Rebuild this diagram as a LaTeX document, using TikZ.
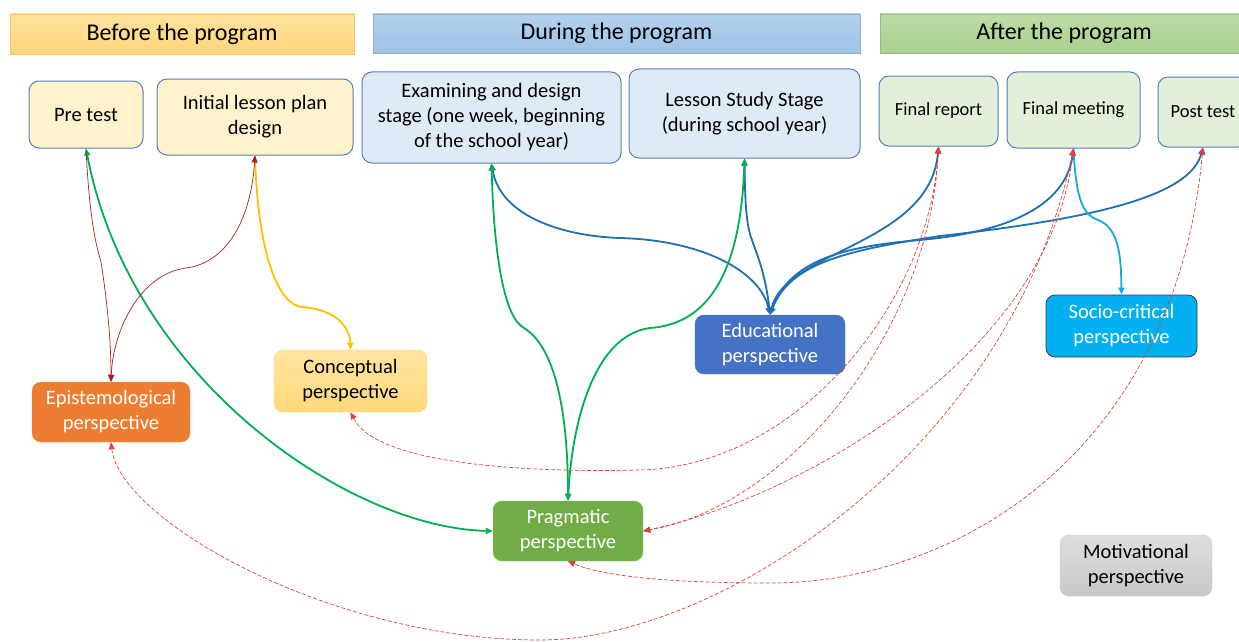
\documentclass[tikz,border=0pt]{standalone}
\usepackage{fontspec}
\setmainfont{Carlito}
\usetikzlibrary{arrows.meta}

\definecolor{hdrOrange}{HTML}{FFD57A}
\definecolor{hdrOrangeTop}{HTML}{FFE29E}
\definecolor{hdrBlue}{HTML}{9DC3E6}
\definecolor{hdrBlueTop}{HTML}{B4D1EE}
\definecolor{hdrGreen}{HTML}{A9D18E}
\definecolor{hdrGreenTop}{HTML}{BCDCA6}
\definecolor{boxLine}{HTML}{5B7DB5}
\definecolor{beforeFill}{HTML}{FFF2CC}
\definecolor{duringFill}{HTML}{DEEBF7}
\definecolor{afterFill}{HTML}{E2F0D9}
\definecolor{episFill}{HTML}{ED7D31}
\definecolor{concFill}{HTML}{FFD97A}
\definecolor{educFill}{HTML}{4472C4}
\definecolor{socioFill}{HTML}{00B0F0}
\definecolor{pragFill}{HTML}{70AD47}
\definecolor{motivFill}{HTML}{C8C8C8}
\definecolor{linkBlue}{HTML}{1F6FB2}
\definecolor{linkGreen}{HTML}{00B050}
\definecolor{linkYellow}{HTML}{FFC000}
\definecolor{linkCyan}{HTML}{1AA7E6}
\definecolor{linkDark}{HTML}{A52020}
\definecolor{linkRed}{HTML}{E0403A}

\tikzset{
  phase/.style={draw=#1!80!orange, rectangle, inner sep=0pt,
    font=\fontsize{24}{28}\selectfont},
  stagebox/.style={draw=boxLine, line width=1pt, rounded corners=10pt,
    align=center, inner sep=0pt, font=\fontsize{20.5}{25}\selectfont},
  persp/.style={rounded corners=9pt, align=center, inner sep=0pt,
    minimum width=151pt, minimum height=60pt,
    font=\fontsize{20.5}{25}\selectfont},
  tip/.style={-{Triangle[length=7pt,width=6pt]}},
  twotip/.style={{Triangle[length=7pt,width=6pt]}-{Triangle[length=7pt,width=6pt]}},
  thick link/.style={line width=1.8pt},
  thin link/.style={line width=0.7pt},
  dash link/.style={line width=0.7pt, dash pattern=on 4pt off 2pt, linkRed}
}

\begin{document}
\begin{tikzpicture}[x=1pt,y=-1pt]
\useasboundingbox (0,0) rectangle (1239,642);
\clip (0,0) rectangle (1239,642);

% Phase headers
\node[phase=hdrOrange, top color=hdrOrangeTop, bottom color=hdrOrange,
  minimum width=344pt, minimum height=40pt] (hdrBefore) at (182,34) {Before the program};
\node[draw=hdrBlue!90!black, top color=hdrBlueTop, bottom color=hdrBlue,
  inner sep=0pt, font=\fontsize{24}{28}\selectfont,
  minimum width=487pt, minimum height=39pt] (hdrDuring) at (616.5,33.5) {During the program};
\node[draw=hdrGreen!90!black, top color=hdrGreenTop, bottom color=hdrGreen,
  inner sep=0pt, font=\fontsize{24}{28}\selectfont,
  minimum width=368pt, minimum height=39pt] (hdrAfter) at (1064,33.5) {After the program};

% Stages of the program
\node[stagebox, fill=beforeFill, minimum width=114pt, minimum height=67pt] (preTest) at (86,114.5) {Pre test};
\node[stagebox, fill=beforeFill, minimum width=196pt, minimum height=76pt] (initPlan) at (255,117) {Initial lesson plan\\design};
\node[stagebox, fill=duringFill, minimum width=259pt, minimum height=91pt] (examStage) at (491.5,117.5) {Examining and design\\stage (one week, beginning\\of the school year)};
\node[stagebox, fill=duringFill, minimum width=231pt, minimum height=89pt] (lessonStage) at (744.5,113.5) {Lesson Study Stage\\(during school year)};
\node[stagebox, fill=afterFill, minimum width=119pt, minimum height=70pt, font=\fontsize{18.5}{22}\selectfont] (finalReport) at (938.5,111) {Final report};
\node[stagebox, fill=afterFill, minimum width=133pt, minimum height=76pt, font=\fontsize{18.5}{22}\selectfont] (finalMeet) at (1073.5,110) {Final meeting};
\node[stagebox, fill=afterFill, minimum width=90pt, minimum height=70pt, font=\fontsize{18.5}{22}\selectfont] (postTest) at (1203,112) {Post test};

% Perspectives
\node[persp, fill=episFill, draw=episFill!80!white, text=white, minimum width=158pt] (episPersp) at (111,412) {Epistemological\\perspective};
\node[persp, top color=concFill!70!white, bottom color=concFill, draw=linkYellow!60!white, minimum width=153pt, minimum height=62pt] (concPersp) at (350.5,381) {Conceptual\\perspective};
\node[persp, fill=educFill, draw=educFill, text=white, minimum width=150pt, minimum height=59pt] (educPersp) at (770,344.5) {Educational\\perspective};
\node[persp, fill=socioFill, draw=black!75, line width=0.8pt, text=white, minimum height=62pt] (socioPersp) at (1121.5,326) {Socio-critical\\perspective};
\node[persp, fill=pragFill, draw=pragFill!80!white, text=white, minimum width=150pt] (pragPersp) at (568,531) {Pragmatic\\perspective};
\node[persp, top color=motivFill!60!white, bottom color=motivFill, draw=black!20, minimum width=152pt, minimum height=61pt] (motivPersp) at (1136,565.5) {Motivational\\perspective};

% Educational links (blue)
\draw[twotip, thick link, linkBlue] (educPersp.north) .. controls (760,270) and (700,240) .. (620,238) .. controls (560,236) and (500,215) .. (examStage.south);
\draw[twotip, thick link, linkBlue] (educPersp.north) .. controls (765,270) and (755,250) .. (752,240) .. controls (746,225) and (745,200) .. (lessonStage.south);
\draw[twotip, thick link, linkBlue] (educPersp.north) .. controls (785,250) and (930,245) .. (finalReport.south);
\draw[twotip, thick link, linkBlue] (educPersp.north) .. controls (790,258) and (850,246) .. (920,240) .. controls (1010,232) and (1066,205) .. (finalMeet.south);
\draw[twotip, thick link, linkBlue] (educPersp.north) .. controls (790,262) and (850,250) .. (940,236) .. controls (1100,218) and (1190,195) .. (postTest.south);

% Socio-critical link (cyan)
\draw[tip, thick link, linkCyan] (finalMeet.south) .. controls (1076,205) and (1085,215) .. (1098,220) .. controls (1120,228) and (1121,260) .. (socioPersp.north);

% Pragmatic links (green)
\draw[twotip, thick link, linkGreen] (preTest.south) .. controls (130,380) and (350,528) .. (pragPersp.west);
\draw[twotip, thick link, linkGreen] (examStage.south) .. controls (494,260) and (505,318) .. (524,328) .. controls (560,350) and (568,430) .. (pragPersp.north);
\draw[twotip, thick link, linkGreen] (lessonStage.south) .. controls (740,300) and (690,325) .. (650,328) .. controls (595,335) and (572,420) .. (pragPersp.north);

% Conceptual link (yellow)
\draw[tip, thick link, linkYellow] (initPlan.south) .. controls (258,260) and (280,305) .. (302,307) .. controls (340,310) and (350,330) .. (concPersp.north);

% Epistemological links (dark red)
\draw[tip, thin link, linkDark] (preTest.south) .. controls (90,230) and (98,250) .. (101,262) .. controls (107,300) and (111,340) .. (episPersp.north);
\draw[twotip, thin link, linkDark] (initPlan.south) .. controls (250,230) and (220,264) .. (186,268) .. controls (140,274) and (113,330) .. (episPersp.north);

% Dashed links to the after stages
\draw[twotip, dash link] (concPersp.south) .. controls (380,470) and (560,472) .. (640,470) .. controls (800,466) and (930,300) .. (finalReport.south);
\draw[twotip, dash link] (finalReport.south) .. controls (930,330) and (790,505) .. (pragPersp.east);
\draw[twotip, dash link] (finalMeet.south) .. controls (1050,350) and (810,495) .. (pragPersp.east);
\draw[twotip, dash link] (finalMeet.south) .. controls (1010,450) and (720,640) .. (540,640) .. controls (330,640) and (120,520) .. (episPersp.south);
\draw[twotip, dash link] (postTest.south) .. controls (1175,450) and (960,583) .. (770,583) .. controls (660,583) and (600,575) .. (pragPersp.south);

\end{tikzpicture}
\end{document}
